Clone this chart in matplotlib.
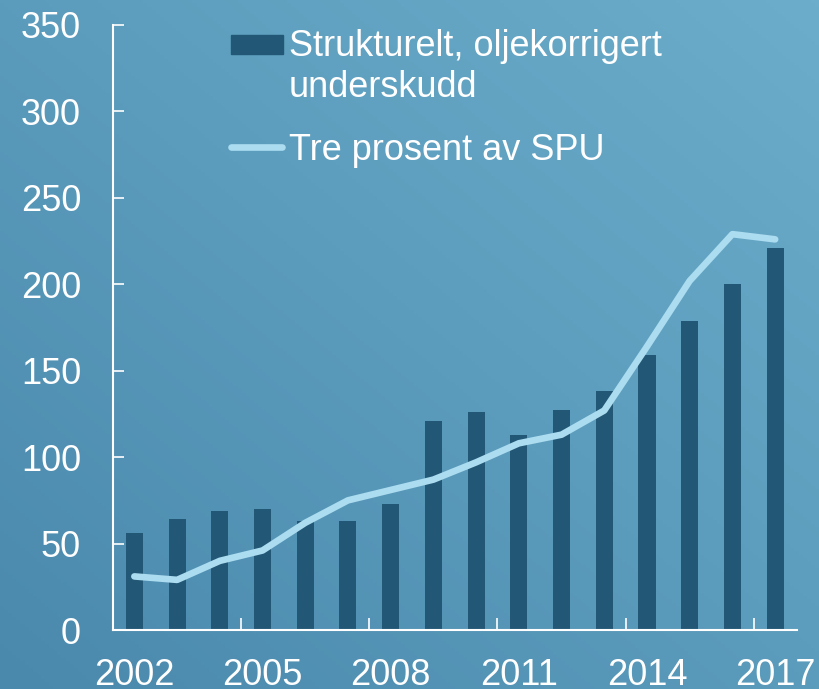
import numpy as np
import matplotlib
matplotlib.use("Agg")
import matplotlib.pyplot as plt
from matplotlib.colors import LinearSegmentedColormap
from matplotlib.patches import Rectangle
from matplotlib.lines import Line2D

plt.rcParams["font.family"] = ["Liberation Sans", "DejaVu Sans"]

# Data (mrd. kroner)
years = np.arange(2002, 2018)
underskudd = [56, 64, 69, 70, 63, 63, 73, 121, 126, 113, 127, 138, 159, 179, 200, 221]
tre_prosent = [31, 29, 40, 46, 62, 75, 81, 87, 97, 108, 113, 127, 164, 202, 229, 226]
tick_years = [2002, 2005, 2008, 2011, 2014, 2017]
yticks = [0, 50, 100, 150, 200, 250, 300, 350]

bar_color = "#225876"
line_color = "#abdcf0"
fs = 26

W, H = 819, 689
fig = plt.figure(figsize=(W / 100, H / 100), dpi=100)

# Bakgrunn med diagonal gradient (mørk nede til venstre, lys oppe til høyre)
bg = fig.add_axes([0, 0, 1, 1], zorder=-10)
u = np.linspace(0, 1, 200)
xx, yy = np.meshgrid(u, u)
grad = 0.5 * (xx + yy)
cmap = LinearSegmentedColormap.from_list("bg", ["#4a89ac", "#6cadcb"])
bg.imshow(grad, cmap=cmap, origin="lower", extent=[0, 1, 0, 1], aspect="auto")
bg.axis("off")

ax = fig.add_axes([113 / W, (H - 630) / H, (796.5 - 113) / W, (630 - 25) / H])
ax.patch.set_alpha(0)

ax.bar(years, underskudd, width=0.4, color=bar_color, zorder=2)
ax.plot(years, tre_prosent, color=line_color, linewidth=4.8,
        solid_capstyle="round", solid_joinstyle="round", zorder=3)

ax.set_xlim(2001.5, 2017.5)
ax.set_ylim(0, 350)
ax.set_yticks(yticks)
ax.set_xticks(tick_years)
ax.set_xticks(np.arange(2004.5, 2017, 3), minor=True)

for side in ["top", "right"]:
    ax.spines[side].set_visible(False)
for side in ["left", "bottom"]:
    ax.spines[side].set_color("white")
    ax.spines[side].set_linewidth(1.5)

ax.tick_params(axis="y", direction="in", length=8, width=1.2, color="white",
               labelcolor="white", labelsize=fs, pad=23)
ax.tick_params(axis="x", which="major", length=0, labelcolor="white",
               labelsize=fs, pad=20)
ax.tick_params(axis="x", which="minor", direction="in", length=9, width=1.2,
               color="white")

# Forklaring (legend) tegnet manuelt
def px(x, y):
    return x / W, 1 - y / H

fig.patches.append(Rectangle(px(231, 54), 52 / W, 19 / H, color=bar_color,
                             transform=fig.transFigure, figure=fig))
fig.lines.append(Line2D([231 / W, 282 / W], [px(0, 147)[1]] * 2,
                        color=line_color, linewidth=4.8, solid_capstyle="round",
                        transform=fig.transFigure, figure=fig))
fig.text(*px(289, 29), "Strukturelt, oljekorrigert\nunderskudd", color="white",
         fontsize=fs, va="top", ha="left", linespacing=1.22)
fig.text(*px(289, 133), "Tre prosent av SPU", color="white",
         fontsize=fs, va="top", ha="left")

fig.savefig("out.png", dpi=100)
